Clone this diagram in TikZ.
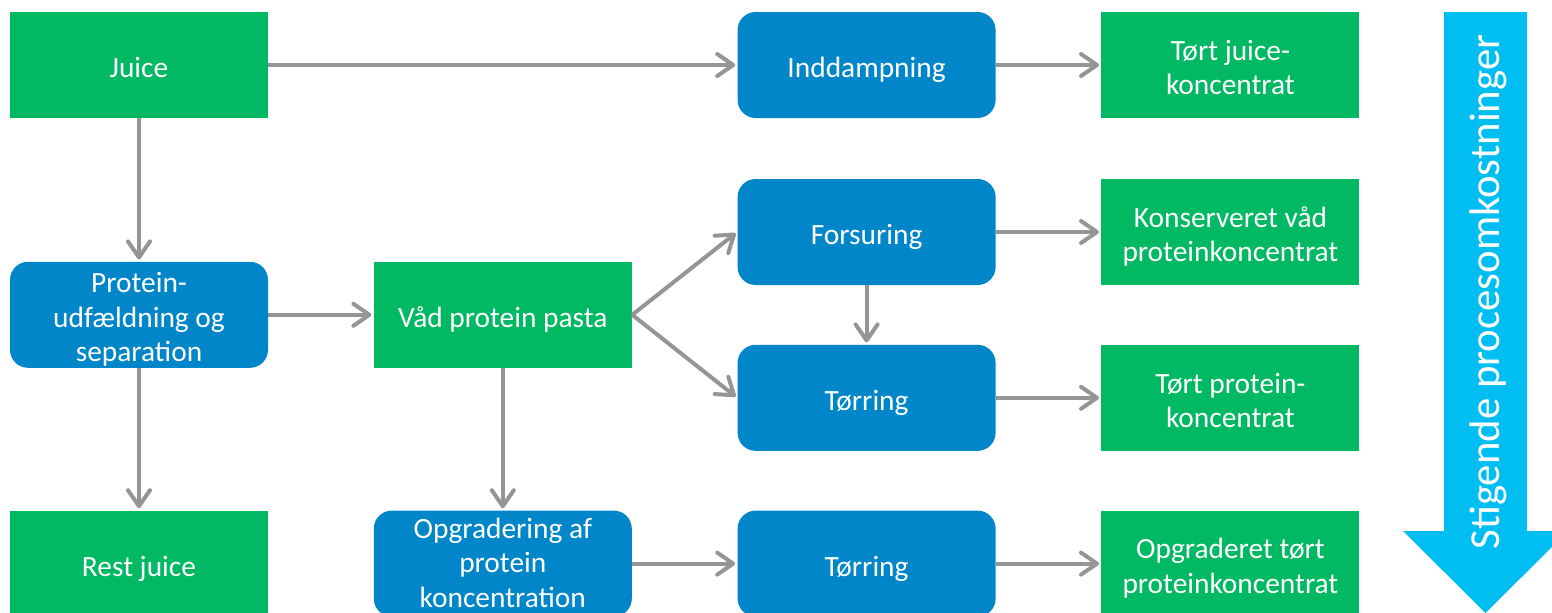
\documentclass[tikz,border=0pt]{standalone}
\usepackage{fontspec}
\setmainfont{Carlito}
\usepackage{xcolor}
\usetikzlibrary{positioning, arrows.meta}
\definecolor{boxgreen}{HTML}{00B962}
\definecolor{boxblue}{HTML}{0086C9}
\definecolor{costcyan}{HTML}{00BEF2}
\definecolor{flowgray}{HTML}{959595}
\tikzset{
x=0.5pt, y=-0.5pt, % one unit is one pixel of the picture
node distance=52.5pt, % gap between the boxes of two columns
box/.style={minimum width=129pt, minimum height=53pt, inner xsep=0pt, inner ysep=-2pt, text width=125pt, align=flush center, text=white,
    font=\fontsize{14.7}{17.25}\selectfont,
    execute at begin node=\rule{0pt}{16.5pt}, execute at end node=\rule[-4pt]{0pt}{0pt}}, % every box, lines sit like in the slide
greenbox/.style={box, fill=boxgreen}, % products
bluebox/.style={box, fill=boxblue, rounded corners=9pt}, % process steps
flow/.style={draw=flowgray, line width=2pt, -{Straight Barb[length=8pt, width=11pt, round]}, shorten >=1pt}, % the grey arrows
}

\begin{document}
\begin{tikzpicture}
    \useasboundingbox (0,0) rectangle (1552,612);
    \clip (0,0) rectangle (1552,612);

    \node[greenbox] (juice) at (139,65) {Juice};
    \node[bluebox, below=71.5pt of juice] (protein) {Protein-\\udfældning og\\separation};
    \node[greenbox, below=71pt of protein] (rest) {Rest juice};
    \node[greenbox, right=of protein] (vaad) {Våd protein pasta};
    \node[bluebox, below=71pt of vaad, inner ysep=-3pt, execute at end node={\rule[-7.5pt]{0pt}{0pt}}] (opgrad) {Opgradering af\\protein\\koncentration};
    \node[bluebox, right=of opgrad] (toerB) {Tørring};
    \node[bluebox, above=29.5pt of toerB] (toerA) {Tørring};
    \node[bluebox, above=29.5pt of toerA] (forsur) {Forsuring};
    \node[bluebox] (inddamp) at (juice -| toerA) {Inddampning};
    \node[greenbox, right=of inddamp] (juicekonc) {Tørt juice-\\koncentrat};
    \node[greenbox, right=of forsur] (konserv) {Konserveret våd\\proteinkoncentrat};
    \node[greenbox, right=of toerA] (proteinkonc) {Tørt protein-\\koncentrat};
    \node[greenbox, right=of toerB] (opgraderet) {Opgraderet tørt\\proteinkoncentrat};

    \draw[flow] (juice) -- (inddamp);
    \draw[flow] (inddamp) -- (juicekonc);
    \draw[flow] (juice) -- (protein);
    \draw[flow] (protein) -- (vaad);
    \draw[flow] (protein) -- (rest);
    \draw[flow] (vaad.east) -- (forsur.west);
    \draw[flow] (vaad.east) -- (toerA.west);
    \draw[flow] (forsur) -- (toerA);
    \draw[flow] (forsur) -- (konserv);
    \draw[flow] (toerA) -- (proteinkonc);
    \draw[flow] (vaad) -- (opgrad);
    \draw[flow] (opgrad) -- (toerB);
    \draw[flow] (toerB) -- (opgraderet);

    % rising process costs
    \fill[costcyan] (1444,12) -- (1527,12) -- (1527,531) -- (1568,531) -- (1485.5,613)
        -- (1403,531) -- (1444,531) -- cycle;
    \node[rotate=90, text=white, font=\fontsize{21.4}{25}\selectfont] (cost) at (1488,292) {Stigende procesomkostninger};
\end{tikzpicture}
\end{document}
